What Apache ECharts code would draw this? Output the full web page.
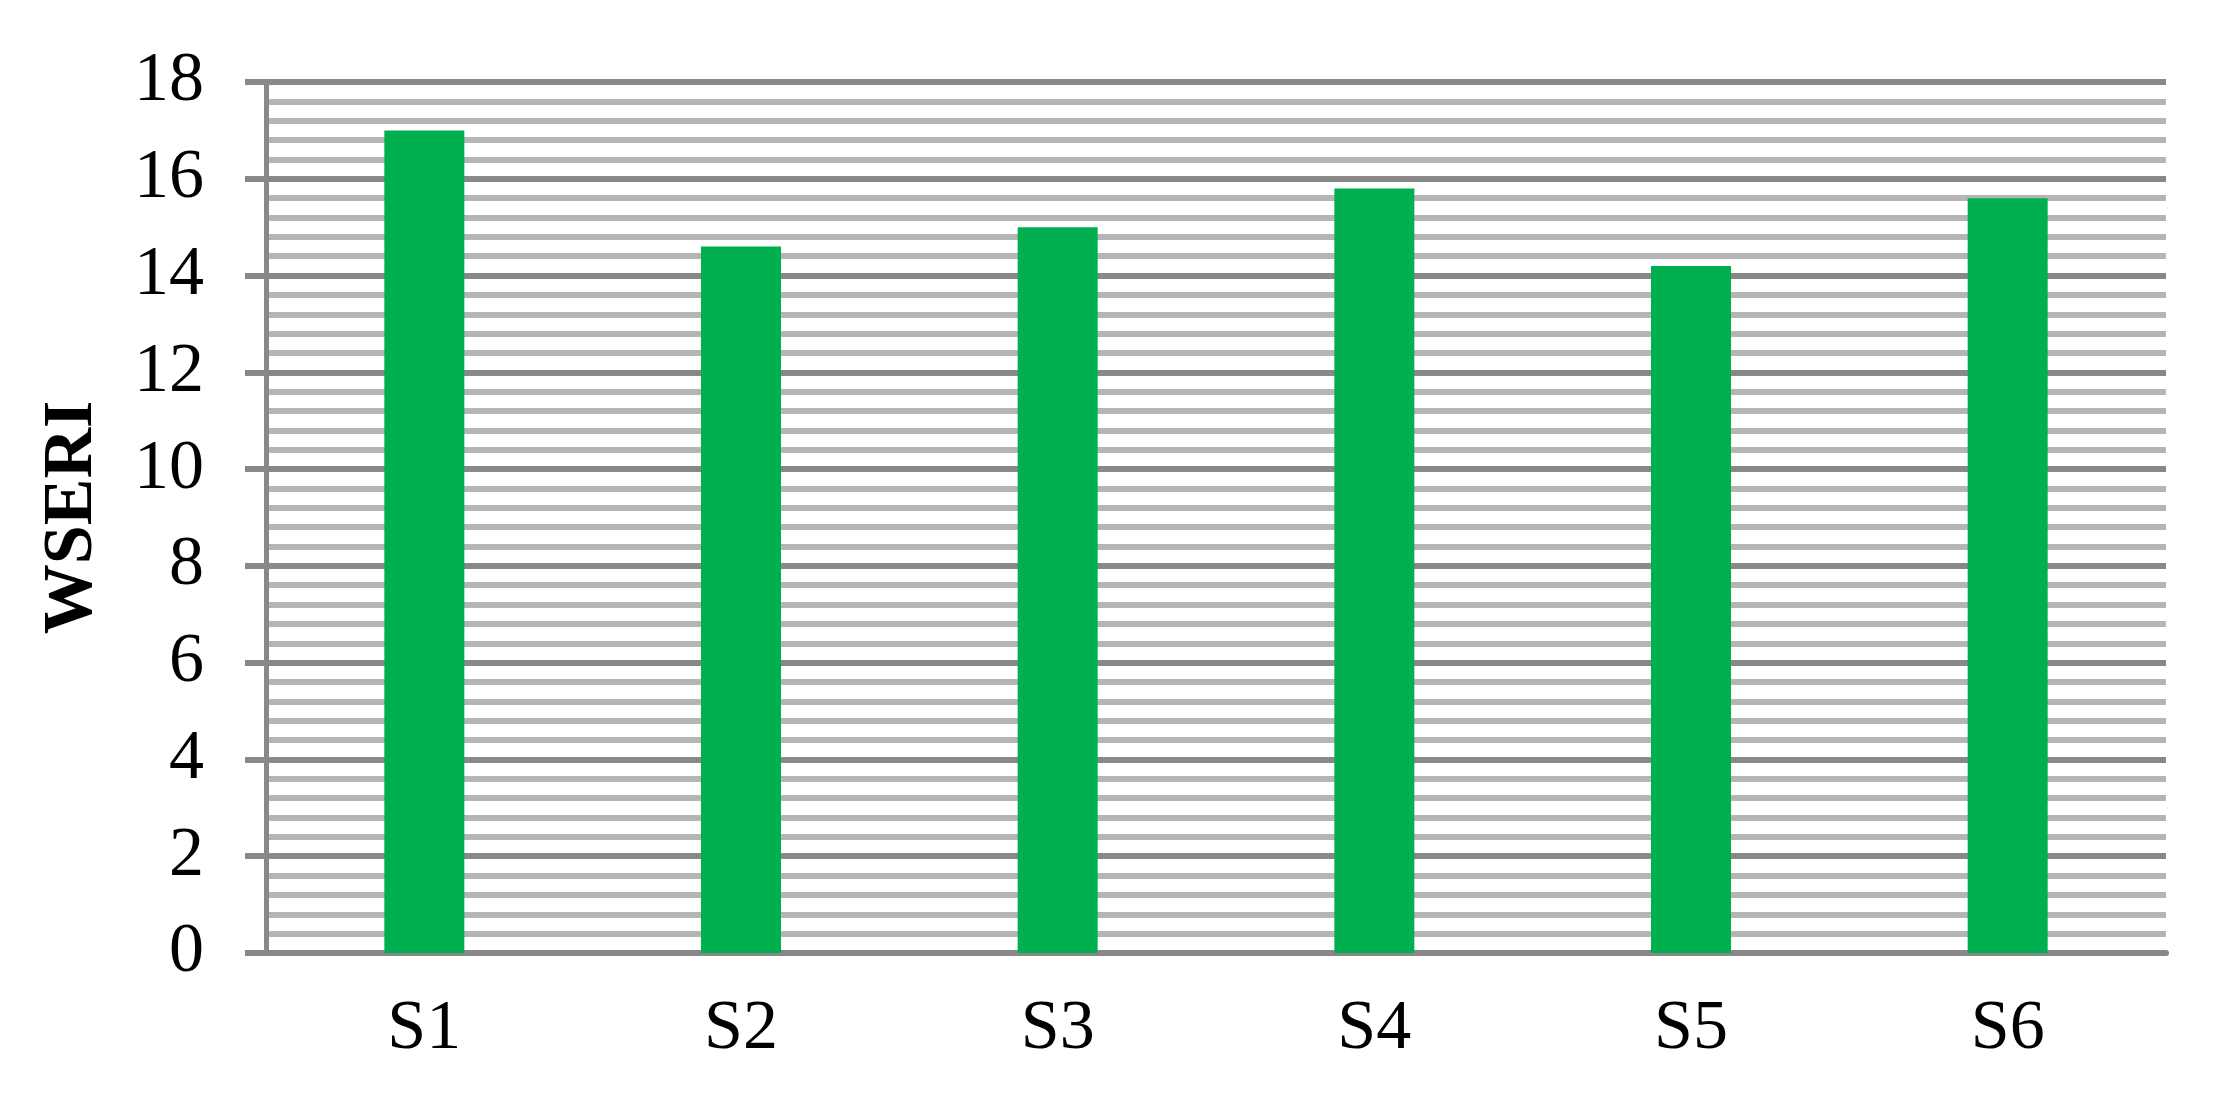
<!DOCTYPE html>
<html>
<head>
<meta charset="utf-8">
<script src="https://cdn.jsdelivr.net/npm/echarts@6/dist/echarts.min.js"></script>
<style>
  html, body { margin: 0; padding: 0; background: #fff; }
  #main { width: 2218px; height: 1100px; }
</style>
</head>
<body>
<div id="main"></div>
<script>
var categories = ['S1', 'S2', 'S3', 'S4', 'S5', 'S6'];
var wseri = [17.0, 14.6, 15.0, 15.8, 14.2, 15.6];
var yName = 'WSERI';

var font = 'Liberation Serif';
var majorColor = '#888888';   // 主网格线
var minorColor = '#b5b5b5';   // 次网格线

var myChart = echarts.init(document.getElementById('main'));
var option = {
    backgroundColor: '#ffffff',
    animation: false,
    grid: {
        left: 266,
        right: 52,
        top: 82,
        bottom: 147
    },
    xAxis: {
        type: 'category',
        data: categories,
        axisLine: { lineStyle: { color: majorColor, width: 6 } },
        axisTick: { show: false },
        axisLabel: {
            margin: 42,
            fontFamily: font,
            fontSize: 70,
            color: '#000'
        },
        splitLine: { show: false }
    },
    yAxis: {
        type: 'value',
        min: 0,
        max: 18,
        interval: 2,
        name: yName,
        nameLocation: 'middle',
        nameGap: 158,
        nameTextStyle: {
            fontFamily: font,
            fontSize: 70,
            fontWeight: 'bold',
            color: '#000'
        },
        axisLine: { show: true, lineStyle: { color: majorColor, width: 5 } },
        axisTick: { show: true, length: 21, lineStyle: { color: majorColor, width: 6 } },
        axisLabel: {
            margin: 62,
            fontFamily: font,
            fontSize: 70,
            color: '#000'
        },
        splitLine: { show: true, lineStyle: { color: majorColor, width: 6 } },
        minorTick: { show: false, splitNumber: 5 },
        minorSplitLine: { show: true, lineStyle: { color: minorColor, width: 6 } }
    },
    series: [
        {
            type: 'bar',
            data: wseri,
            barWidth: 80,
            itemStyle: { color: '#00B050' }
        }
    ]
};
myChart.setOption(option);
</script>
</body>
</html>
